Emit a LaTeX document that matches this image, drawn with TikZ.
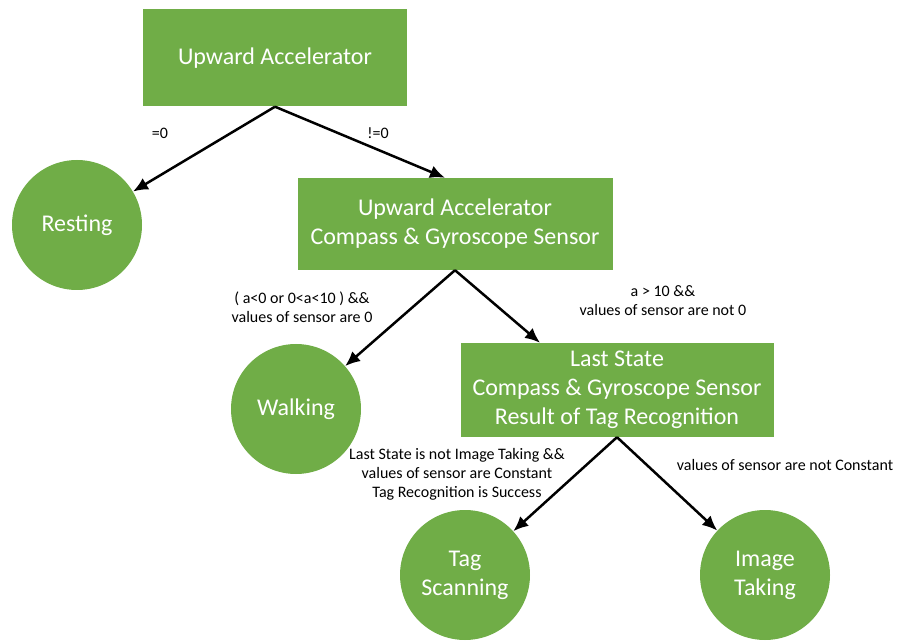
\documentclass[tikz,border=0pt]{standalone}
\usepackage{fontspec}
\setmainfont{Carlito}
\usetikzlibrary{arrows.meta}
\definecolor{leafgreen}{RGB}{112,173,71}
\begin{document}
\begin{tikzpicture}[x=1pt,y=-1pt,
  decision/.style={fill=leafgreen, draw=none, text=white, align=center,
    font=\fontsize{24}{29}\selectfont, inner sep=0pt},
  state/.style={circle, fill=leafgreen, draw=none, text=white, align=center,
    minimum size=130pt, inner sep=0pt, font=\fontsize{24}{29}\selectfont},
  edge/.style={-{Latex[length=15pt,width=13pt]}, line width=2.5pt},
  cond/.style={align=center, font=\fontsize{16}{19}\selectfont, inner sep=0pt}]
\useasboundingbox (0,0) rectangle (900,644);

% decision boxes
\node[decision, minimum width=264pt, minimum height=97pt] (ua) at (275,58) {Upward Accelerator};
\node[decision, minimum width=315pt, minimum height=92pt] (ucg) at (455,224)
  {Upward Accelerator\\Compass \& Gyroscope Sensor};
\node[decision, minimum width=313pt, minimum height=94pt] (ls) at (617,390)
  {Last State\\Compass \& Gyroscope Sensor\\Result of Tag Recognition};

% resulting states
\node[state] (rest) at (77,225) {Resting};
\node[state] (walk) at (296,409) {Walking};
\node[state] (tag) at (465,575) {Tag\\Scanning};
\node[state] (img) at (765,575) {Image\\Taking};

% branches
\draw[edge] (ua.south) -- (rest);
\draw[edge] (ua.south) -- ([xshift=-10pt]ucg.north);
\draw[edge] (ucg.south) -- (walk);
\draw[edge] (ucg.south) -- ([xshift=-77pt]ls.north);
\draw[edge] (ls.south) -- (tag);
\draw[edge] (ls.south) -- (img);

% branch conditions
\node[cond] (c1) at (160,133) {=0};
\node[cond] (c2) at (378,133) {!=0};
\node[cond] (c3) at (302,307) {( a<0 or 0<a<10 ) \&\&\\values of sensor are 0};
\node[cond] (c4) at (663,301) {a > 10 \&\&\\values of sensor are not 0};
\node[cond] (c5) at (457,474) {Last State is not Image Taking \&\&\\values of sensor are Constant\\Tag Recognition is Success};
\node[cond] (c6) at (785,465) {values of sensor are not Constant};
\end{tikzpicture}
\end{document}
